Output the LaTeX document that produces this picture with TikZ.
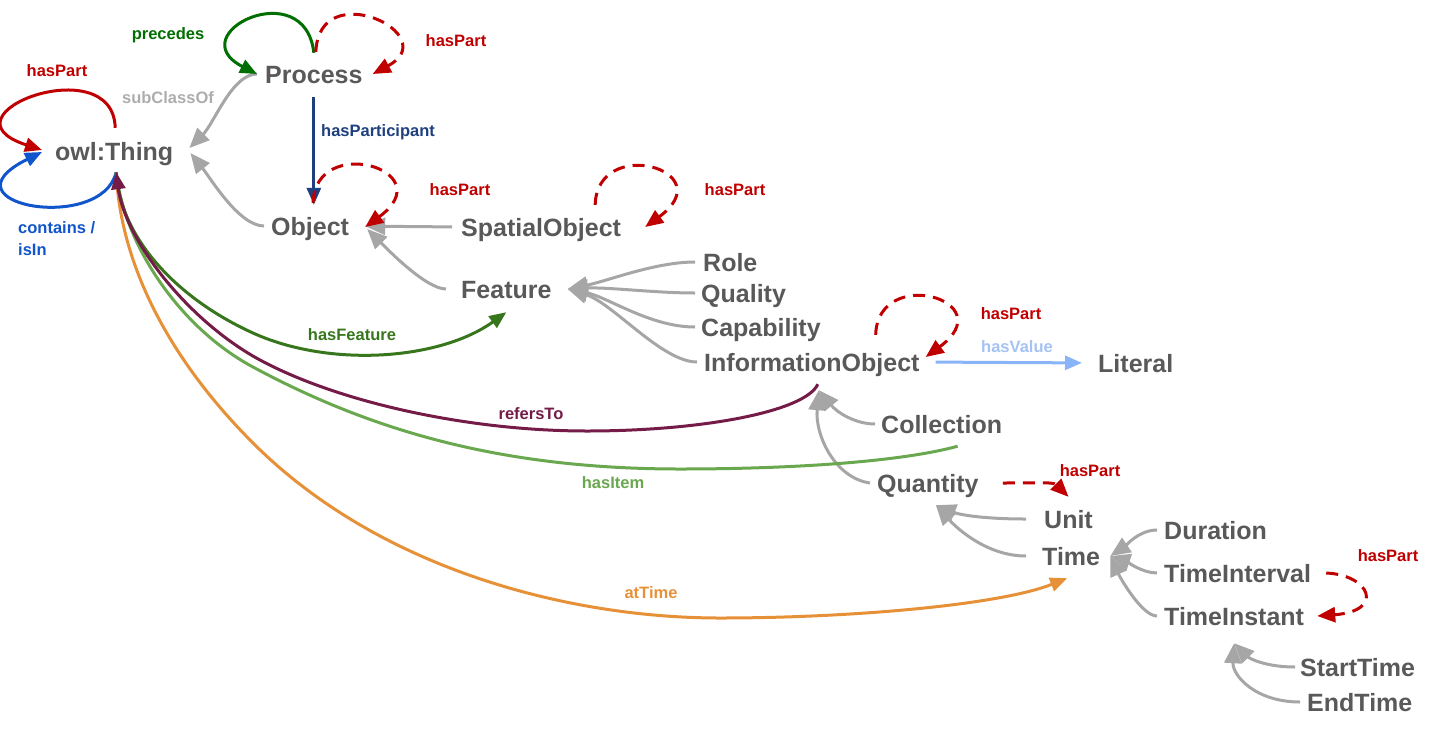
\documentclass[tikz,border=0pt]{standalone}
\usepackage{fontspec}
\setmainfont{Liberation Sans}
\usetikzlibrary{arrows.meta}

\definecolor{clsgray}{HTML}{595959}
\definecolor{isagray}{HTML}{A6A6A6}
\definecolor{subgray}{HTML}{ADADAD}
\definecolor{partred}{HTML}{C00000}
\definecolor{precgreen}{HTML}{006E00}
\definecolor{partblue}{HTML}{1F3F7F}
\definecolor{inblue}{HTML}{1155CC}
\definecolor{featgreen}{HTML}{38761D}
\definecolor{refpurple}{HTML}{741B47}
\definecolor{itemgreen}{HTML}{6AA84F}
\definecolor{timeorange}{HTML}{E69138}
\definecolor{valblue}{HTML}{8AB4F8}
\definecolor{valtext}{HTML}{A4C2F4}

\begin{document}
\begin{tikzpicture}[%
      x=1pt, y=-1pt,
      cls/.style={font=\fontsize{25}{25}\selectfont\bfseries, text=clsgray,
        inner sep=0pt, text height=18pt, text depth=0pt, anchor=west},
      lbl/.style={font=\fontsize{16.5}{22}\selectfont\bfseries, inner sep=0pt},
      isa/.style={color=isagray, line width=3pt, -{Triangle[length=20pt,width=17pt]}},
      rel/.style={line width=3pt, -{Triangle[length=17pt,width=14pt]}},
      haspart/.style={color=partred, line width=3pt, dash pattern=on 12pt off 8pt,
        -{Triangle[length=18pt,width=15pt]}},
      ]
      \useasboundingbox (0,0) rectangle (1439,734);

      \node [cls] (thing) at (55,151) {owl:Thing};
      \node [cls] (process) at (265,74) {Process};
      \node [cls] (object) at (271,226) {Object};
      \node [cls] (spatial) at (461,227) {SpatialObject};
      \node [cls] (feature) at (461,289) {Feature};
      \node [cls] (role) at (703,262) {Role};
      \node [cls] (quality) at (701,293) {Quality};
      \node [cls] (capability) at (701,327) {Capability};
      \node [cls] (infoobj) at (704,362) {InformationObject};
      \node [cls] (literal) at (1098,363) {Literal};
      \node [cls] (collection) at (881,424) {Collection};
      \node [cls] (quantity) at (877,483) {Quantity};
      \node [cls] (unit) at (1044,519) {Unit};
      \node [cls] (time) at (1042,556) {Time};
      \node [cls] (duration) at (1164,530) {Duration};
      \node [cls] (interval) at (1164,573) {TimeInterval};
      \node [cls] (instant) at (1164,616) {TimeInstant};
      \node [cls] (starttime) at (1300,667) {StartTime};
      \node [cls] (endtime) at (1307,702) {EndTime};

      \draw [isa] ([xshift=-8pt]process.west) .. controls +(-25,0) and +(25,-25) .. ([xshift=16pt,yshift=3pt]thing.east);
      \draw [isa] ([xshift=-7pt]object.west) .. controls +(-25,0) and +(20,25) .. ([xshift=17pt,yshift=-2pt]thing.east);
      \draw [isa, shorten <=9pt, shorten >=16pt] (spatial.west) -- (object.east);
      \draw [isa] ([xshift=-15pt]feature.west) .. controls +(-20,0) and +(20,20) .. ([xshift=18pt,yshift=-3pt]object.east);
      \draw [isa] ([xshift=-8pt]role.west) .. controls +(-40,0) and +(40,-8) .. ([xshift=16pt]feature.east);
      \draw [isa] ([xshift=-6pt]quality.west) .. controls +(-40,0) and +(40,-2) .. ([xshift=16pt]feature.east);
      \draw [isa] ([xshift=-6pt]capability.west) .. controls +(-45,0) and +(40,8) .. ([xshift=16pt]feature.east);
      \draw [isa] ([xshift=-7pt]infoobj.west) .. controls +(-35,0) and +(45,14) .. ([xshift=16pt]feature.east);
      \draw [isa] ([xshift=-6pt]collection.west) .. controls +(-20,0) and +(18,22) .. ([xshift=7pt,yshift=-19pt]infoobj.south);
      \draw [isa] ([xshift=-7pt]quantity.west) .. controls +(-35,-5) and +(-4,45) .. ([xshift=7pt,yshift=-19pt]infoobj.south);
      \draw [isa] ([xshift=-18pt]unit.west) .. controls +(-40,0) and +(25,10) .. ([xshift=8pt,yshift=-13pt]quantity.south);
      \draw [isa] ([xshift=-16pt]time.west) .. controls +(-40,0) and +(20,22) .. ([xshift=8pt,yshift=-13pt]quantity.south);
      \draw [isa] ([xshift=-7pt]duration.west) .. controls +(-18,0) and +(15,-10) .. ([xshift=10pt]time.east);
      \draw [isa] ([xshift=-7pt]interval.west) .. controls +(-15,0) and +(15,5) .. ([xshift=10pt]time.east);
      \draw [isa] ([xshift=-7pt]instant.west) .. controls +(-15,0) and +(10,22) .. ([xshift=10pt]time.east);
      \draw [isa] ([xshift=-5pt]starttime.west) .. controls +(-30,0) and +(15,15) .. ([yshift=-18pt]instant.south);
      \draw [isa] ([xshift=-7pt]endtime.west) .. controls +(-45,0) and +(-2,32) .. ([yshift=-18pt]instant.south);

      \draw [rel, color=partred] ([xshift=1pt,yshift=14pt]thing.north) .. controls +(-2,-80) and +(-108,-35) .. ([xshift=-13pt,yshift=1pt]thing.west);
      \draw [rel, color=inblue] ([xshift=2pt,yshift=-12pt]thing.south) .. controls +(-15,62) and +(-105,52) .. ([xshift=-13pt,yshift=-1pt]thing.west);
      \draw [rel, color=precgreen] ([yshift=12pt]process.north) .. controls +(-9,-80) and +(-78,-40) .. ([xshift=-8pt]process.west);
      \draw [haspart] ([xshift=2pt,yshift=13pt]process.north) .. controls +(3,-77) and +(73,-39) .. ([xshift=10pt]process.east);
      \draw [rel, color=partblue, shorten <=14pt, shorten >=12pt] (process.south) -- (process.south |- object.north);
      \draw [haspart] ([xshift=3pt,yshift=14pt]object.north) .. controls +(2,-70) and +(78,-57) .. ([xshift=16pt,yshift=-1pt]object.east);
      \draw [haspart] ([xshift=-26pt,yshift=13pt]spatial.north east) .. controls +(2,-70) and +(78,-57) .. ([xshift=24pt]spatial.east);
      \draw [haspart] ([xshift=-44pt,yshift=18pt]infoobj.north east) .. controls +(2,-70) and +(78,-57) .. ([xshift=6pt,yshift=5pt]infoobj.east);
      \draw [rel, color=valblue, shorten <=16pt, shorten >=16pt] (infoobj.east) -- (literal.west);
      \draw [haspart] ([xshift=24pt]quantity.east) .. controls +(30,0) and +(-15,-15) .. ([yshift=13pt]unit.north);
      \draw [haspart] ([xshift=15pt]interval.east) .. controls +(44,2) and +(68,-5) .. ([xshift=13pt]instant.east);

      \draw [rel, color=timeorange] ([xshift=2pt,yshift=-12pt]thing.south) .. controls (120,260) and (165,355) .. (253,443)
            .. controls (380,570) and (570,618) .. (720,618) .. controls (850,618) and (1000,605) .. ([xshift=-4pt,yshift=-13pt]time.south);
      \draw [line width=3pt, color=itemgreen] ([xshift=16pt,yshift=-13pt]collection.south) .. controls (900,462) and (790,469) .. (680,469)
            .. controls (500,469) and (370,430) .. (253,367) .. controls (180,328) and (124,245) .. ([xshift=2pt,yshift=-12pt]thing.south);
      \draw [rel, color=featgreen] ([xshift=2pt,yshift=-12pt]thing.south) .. controls (120,240) and (180,300) .. (253,333)
            .. controls (330,368) and (440,360) .. ([yshift=-14pt]feature.south);
      \draw [rel, color=refpurple] ([xshift=6pt,yshift=-13pt]infoobj.south) .. controls (805,412) and (700,431) .. (587,431)
            .. controls (470,431) and (340,403) .. (260,360) .. controls (188,321) and (125,240) .. ([xshift=2pt,yshift=-12pt]thing.south);

      \node [lbl, text=partred] (lthingpart) at (57,71) {hasPart};
      \node [lbl, text=subgray] (lsubclass) at (168,98) {subClassOf};
      \node [lbl, text=precgreen] (lprecedes) at (168,35) {precedes};
      \node [lbl, text=partred] (lprocpart) at (456,41) {hasPart};
      \node [lbl, text=partblue, anchor=west] (lparticipant) at (321,132) {hasParticipant};
      \node [lbl, text=inblue, align=left, anchor=north west] (lcontains) at (18,221) {contains /\\isIn};
      \node [lbl, text=partred] (lobjpart) at (460,190) {hasPart};
      \node [lbl, text=partred] (lspatpart) at (735,190) {hasPart};
      \node [lbl, text=partred] (linfopart) at (1011,314) {hasPart};
      \node [lbl, text=valtext] (lvalue) at (1017,347) {hasValue};
      \node [lbl, text=featgreen] (lfeature) at (352,335) {hasFeature};
      \node [lbl, text=refpurple] (lrefers) at (531,414) {refersTo};
      \node [lbl, text=itemgreen] (litem) at (613,483) {hasItem};
      \node [lbl, text=timeorange] (ltime) at (651,593) {atTime};
      \node [lbl, text=partred] (lquantpart) at (1090,471) {hasPart};
      \node [lbl, text=partred] (lintpart) at (1388,556) {hasPart};
      \end{tikzpicture}
\end{document}
